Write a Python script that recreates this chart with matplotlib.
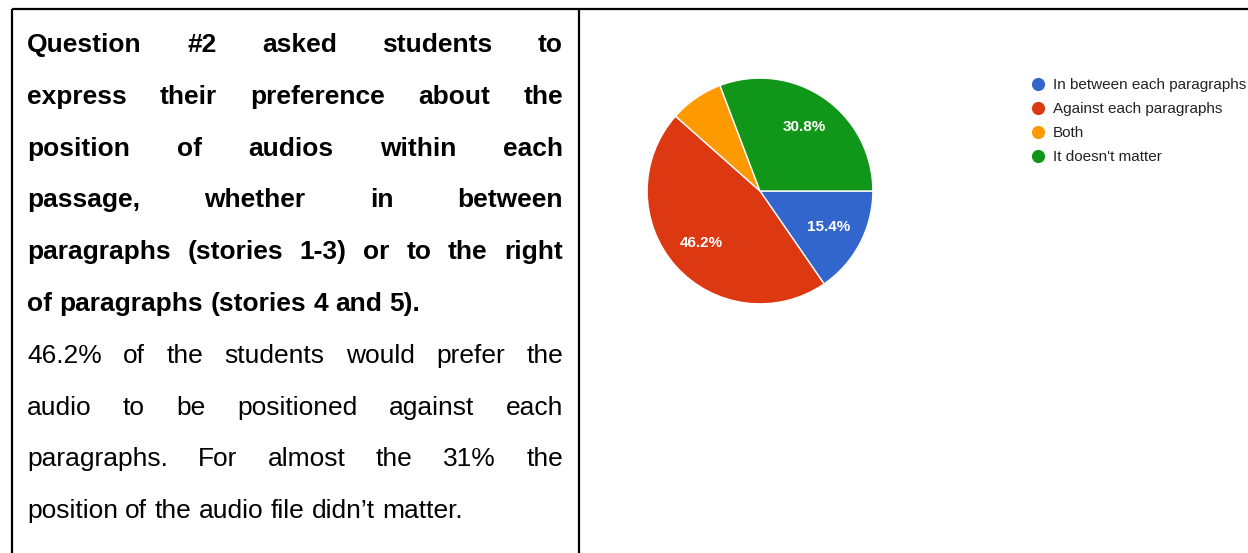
import matplotlib
matplotlib.use('Agg')
import matplotlib.pyplot as plt
from matplotlib.font_manager import FontProperties
from matplotlib.lines import Line2D

W, H = 1248, 553
DPI = 100

# survey answers for question #2
labels = ['In between each paragraphs', 'Against each paragraphs', 'Both', "It doesn't matter"]
counts = [2, 6, 1, 4]
colors = ['#3366cc', '#dc3912', '#ff9900', '#109618']

# description text, one entry per printed line
bold_lines = [
    'Question #2 asked students to',
    'express their preference about the',
    'position of audios within each',
    'passage, whether in between',
    'paragraphs (stories 1-3) or to the right',
    'of paragraphs (stories 4 and 5).',
]
plain_lines = [
    '46.2% of the students would prefer the',
    'audio to be positioned against each',
    'paragraphs. For almost the 31% the',
    'position of the audio file didn\u2019t matter.',
]

FS = 19
TEXT_L, TEXT_R = 27, 563
BASE0, PITCH = 52, 51.8

fig = plt.figure(figsize=(W / DPI, H / DPI), dpi=DPI)

# full-figure overlay in pixel units for the table and text
bg = fig.add_axes([0, 0, 1, 1])
bg.set_xlim(0, W)
bg.set_ylim(H, 0)
bg.axis('off')

# table borders
bg.plot([12, W], [9, 9], color='black', lw=1.6, solid_capstyle='butt')
bg.plot([12, 12], [9, H], color='black', lw=1.6, solid_capstyle='butt')
bg.plot([579, 579], [9, H], color='black', lw=1.6, solid_capstyle='butt')

fig.canvas.draw()
renderer = fig.canvas.get_renderer()


def text_width(s, fp):
    return renderer.get_text_width_height_descent(s, fp, ismath=False)[0]


def put_line(line, y, bold, justify):
    fp = FontProperties(family='Liberation Sans', size=FS,
                        weight='bold' if bold else 'normal')
    words = line.split(' ')
    widths = [text_width(w, fp) for w in words]
    if justify and len(words) > 1:
        gap = (TEXT_R - TEXT_L - sum(widths)) / (len(words) - 1)
    else:
        gap = text_width('x x', fp) - text_width('xx', fp)
    x = TEXT_L
    for w, wd in zip(words, widths):
        bg.text(x, y, w, fontproperties=fp, ha='left', va='baseline', color='black')
        x += wd + gap


all_lines = [(s, True) for s in bold_lines] + [(s, False) for s in plain_lines]
last_of_para = {len(bold_lines) - 1, len(all_lines) - 1}
for i, (s, bold) in enumerate(all_lines):
    put_line(s, BASE0 + PITCH * i, bold, i not in last_of_para)

# pie chart
cx, cy, r = 760, 191, 114
ax = fig.add_axes([(cx - r) / W, (H - cy - r) / H, 2 * r / W, 2 * r / H])
ax.pie(counts, colors=colors, startangle=0, counterclock=False,
       autopct=lambda p: f'{p:.1f}%' if p > 10 else '',
       pctdistance=0.69,
       wedgeprops=dict(edgecolor='white', linewidth=1),
       textprops=dict(color='white', fontsize=11, fontweight='bold',
                      family='Liberation Sans'))
ax.set_xlim(-1.01, 1.01)
ax.set_ylim(-1.01, 1.01)
ax.set_aspect('equal')
ax.axis('off')

# legend
handles = [Line2D([], [], marker='o', linestyle='none', markersize=9.5,
                  markerfacecolor=c, markeredgewidth=0) for c in colors]
fig.legend(handles, labels, loc='upper left',
           bbox_to_anchor=(1030.4 / W, 1 - 78 / H),
           frameon=False, borderpad=0, borderaxespad=0,
           handlelength=1.0, handletextpad=0.45, labelspacing=0.66,
           prop=FontProperties(family='Liberation Sans', size=11),
           labelcolor='#222222')

fig.savefig('out.png', dpi=DPI)
